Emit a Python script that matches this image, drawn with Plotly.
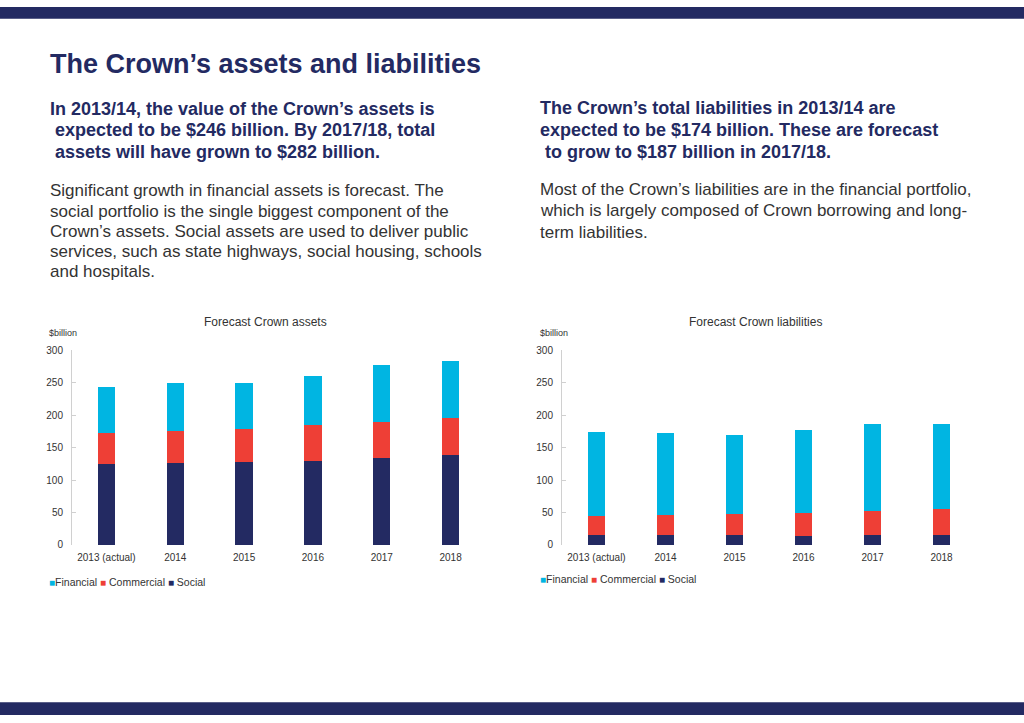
import plotly.graph_objects as go

# ---- data ----
years = ["2013 (actual)", "2014", "2015", "2016", "2017", "2018"]

assets_social = [124, 126, 127, 130, 134, 138]
assets_commercial = [48, 49, 52, 54, 56, 57]
assets_financial = [72, 74, 71, 77, 87, 88]

liab_social = [16, 16, 15, 14, 16, 16]
liab_commercial = [28, 30, 32, 35, 36, 39]
liab_financial = [130, 126, 123, 128, 135, 131]

y_ticks = [0, 50, 100, 150, 200, 250, 300]
legend_names = ["Financial", "Commercial", "Social"]

title_text = "The Crown’s assets and liabilities"
left_heading = [
    "In 2013/14, the value of the Crown’s assets is",
    "\u00a0expected to be $246 billion. By 2017/18, total",
    "\u00a0assets will have grown to $282 billion.",
]
left_body = [
    "Significant growth in financial assets is forecast. The",
    "social portfolio is the single biggest component of the",
    "Crown’s assets. Social assets are used to deliver public",
    "services, such as state highways, social housing, schools",
    "and hospitals.",
]
right_heading = [
    "The Crown’s total liabilities in 2013/14 are",
    "expected to be $174 billion. These are forecast",
    "\u00a0to grow to $187 billion in 2017/18.",
]
right_body = [
    "Most of the Crown’s liabilities are in the financial portfolio,",
    "which is largely composed of Crown borrowing and long-",
    "term liabilities.",
]

W, H = 1024, 723
NAVY = "#232a62"
CYAN = "#00b5e2"
RED = "#ee3f36"
TEXT = "#333333"
FONT = "Liberation Sans, Arial, sans-serif"
colors = {"Financial": CYAN, "Commercial": RED, "Social": NAVY}


def px(x):
    return x / W


def py(y):
    return 1 - y / H


fig = go.Figure()

# stacked bars, bottom segment first
for name, vals in [("Social", assets_social), ("Commercial", assets_commercial),
                   ("Financial", assets_financial)]:
    fig.add_trace(go.Bar(x=years, y=vals, name=name, marker_color=colors[name],
                         marker_line_width=0, xaxis="x", yaxis="y"))
for name, vals in [("Social", liab_social), ("Commercial", liab_commercial),
                   ("Financial", liab_financial)]:
    fig.add_trace(go.Bar(x=years, y=vals, name=name, marker_color=colors[name],
                         marker_line_width=0, xaxis="x2", yaxis="y2"))

yaxis_style = dict(
    range=[0, 300], tickvals=y_ticks, showgrid=False, zeroline=False,
    showline=True, linecolor="#d0d0d0", linewidth=1,
    ticks="inside", ticklen=4, tickcolor="#d0d0d0", ticklabelstandoff=6,
    tickfont=dict(size=10, color=TEXT), fixedrange=True,
)
xaxis_style = dict(
    showgrid=False, zeroline=False, showline=False, ticks="", ticklabelstandoff=5,
    tickfont=dict(size=10, color=TEXT), fixedrange=True,
)

annotations = [dict(text=f"<b>{title_text}</b>", x=px(48), y=py(59),
                    font=dict(size=27, color=NAVY))]
for i, line in enumerate(left_heading):
    annotations.append(dict(text=f"<b>{line}</b>", x=px(48), y=py(104.5 + i * 21.8),
                            font=dict(size=18, color=NAVY)))
for i, line in enumerate(left_body):
    annotations.append(dict(text=line, x=px(48), y=py(188 + i * 20.6),
                            font=dict(size=17, color=TEXT)))
for i, line in enumerate(right_heading):
    annotations.append(dict(text=f"<b>{line}</b>", x=px(538), y=py(103.8 + i * 22.3),
                            font=dict(size=18, color=NAVY)))
for i, line in enumerate(right_body):
    annotations.append(dict(text=line, x=px(538), y=py(186.5 + i * 21.7),
                            font=dict(size=17, color=TEXT)))

# compact legends, as in the source layout
def legend_entry(n, first):
    sq = f"<span style='color:{colors[n]};font-size:10px'>■</span>"
    return sq + n if first else sq + " " + n


legend_text = " ".join(legend_entry(n, i == 0) for i, n in enumerate(legend_names))
annotations.append(dict(text=legend_text, x=px(47), y=py(586), font=dict(size=10.5, color=TEXT)))
annotations.append(dict(text=legend_text, x=px(538), y=py(583), font=dict(size=10.5, color=TEXT)))

annotations.append(dict(text="$billion", x=px(47), y=py(333), font=dict(size=9, color=TEXT)))
annotations.append(dict(text="$billion", x=px(538), y=py(333), font=dict(size=9, color=TEXT)))

for a in annotations:
    a.update(xref="paper", yref="paper", xanchor="left", yanchor="middle", showarrow=False)

annotations += [
    dict(text="Forecast Crown assets", x=px(265), y=py(321), xanchor="center",
         font=dict(size=12, color=TEXT)),
    dict(text="Forecast Crown liabilities", x=px(755), y=py(321), xanchor="center",
         font=dict(size=12, color=TEXT)),
]
for a in annotations[-2:]:
    a.update(xref="paper", yref="paper", yanchor="middle", showarrow=False)

fig.update_layout(
    width=W, height=H, margin=dict(l=0, r=0, t=0, b=0),
    paper_bgcolor="white", plot_bgcolor="white",
    font=dict(family=FONT, color=TEXT),
    barmode="stack", bargap=0.75, showlegend=False,
    xaxis=dict(domain=[px(72), px(485)], anchor="y", **xaxis_style),
    yaxis=dict(domain=[py(548), py(350)], anchor="x", **yaxis_style),
    xaxis2=dict(domain=[px(562), px(976)], anchor="y2", **xaxis_style),
    yaxis2=dict(domain=[py(548), py(350)], anchor="x2", **yaxis_style),
    annotations=annotations,
    shapes=[
        dict(type="rect", xref="paper", yref="paper", x0=0, x1=1, y0=py(13), y1=py(1),
             fillcolor=NAVY, line_width=0),
        dict(type="rect", xref="paper", yref="paper", x0=0, x1=1, y0=py(721), y1=py(708),
             fillcolor=NAVY, line_width=0),
    ],
    hovermode=False,
)

fig.write_html("out.html", config={"displayModeBar": False},
               post_script="document.body.style.margin='0';")
